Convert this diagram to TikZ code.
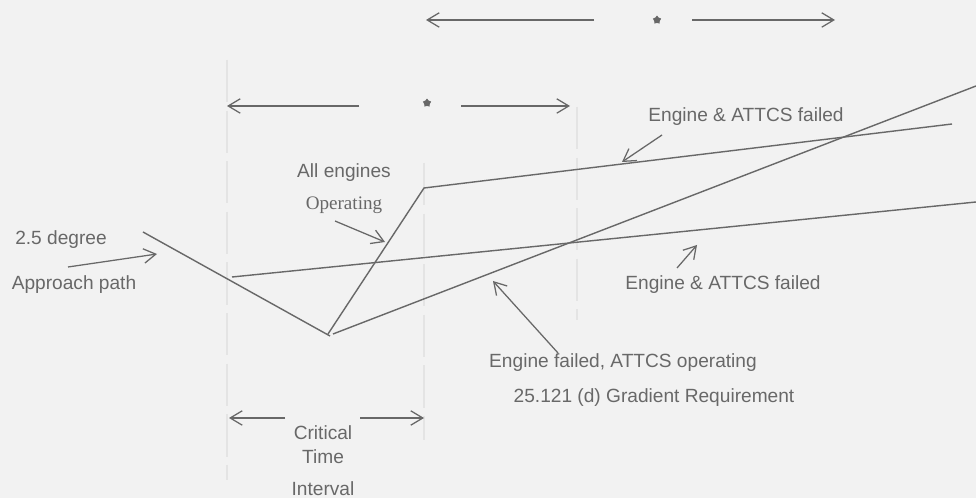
\documentclass[tikz,border=0pt]{standalone}
\usepackage{fontspec}
\setmainfont{Liberation Sans}
\newfontfamily\timesfont{Liberation Serif}
\usepackage{xcolor}
\usepackage{tikz}
\usetikzlibrary{arrows.meta,shapes.geometric}
\definecolor{paper}{RGB}{242,242,242}
\definecolor{ink}{RGB}{104,104,104}
\definecolor{ghost}{RGB}{228,228,228}

\begin{document}
\begin{tikzpicture}[x=0.025cm, y=-0.025cm,
  lbl/.style={font=\fontsize{13.6}{16}\selectfont, text=ink, inner sep=0pt},
  path/.style={line width=1pt, color=ink},
  ptr/.style={-{Straight Barb[length=3mm, width=3.6mm]}, line width=0.9pt, color=ink},
  guide/.style={line width=1.2pt, color=ghost, dash pattern=on 30pt off 6pt},
  dot/.style={star, star points=5, fill=ink, inner sep=0pt, minimum size=0.22cm}
]
  \fill[paper] (0,0) rectangle (976,498);
  \useasboundingbox (0,0) rectangle (976,498);
  % faint guides
  \draw[guide] (227,60) -- (227,480);
  \draw[guide] (424,163) -- (424,440);
  \draw[guide] (577,107) -- (577,320);
  % flight paths
  \coordinate (a0) at (143,232);
  \coordinate (v) at (330,336);
  \coordinate (v1) at (328,334);
  \coordinate (k) at (424,188);
  \coordinate (k1) at (952,124);
  \coordinate (s0) at (333,334);
  \coordinate (s1) at (976,86);
  \coordinate (f0) at (232,277);
  \coordinate (f1) at (976,202);
  \draw[path] (a0) -- (v);
  \draw[path] (v1) -- (k) -- (k1);
  \draw[path] (s0) -- (s1);
  \draw[path] (f0) -- (f1);
  % labels
  \node[lbl] (deg) at (61,240) {2.5 degree};
  \node[lbl] (app) at (74,285) {Approach path};
  \node[lbl] (all) at (344,173) {All engines};
  \node[lbl, font=\fontsize{13.6}{16}\timesfont] (op) at (344,205) {Operating};
  \node[lbl] (fa) at (746,117) {Engine \& ATTCS failed};
  \node[lbl] (fb) at (723,285) {Engine \& ATTCS failed};
  \node[lbl] (eo) at (623,363) {Engine failed, ATTCS operating};
  \node[lbl] (req) at (654,398) {25.121 (d) Gradient Requirement};
  \node[lbl] (crit) at (323,433) {Critical};
  \node[lbl] (time) at (323,457) {Time};
  \node[lbl] (intv) at (323,489) {Interval};
  % pointers
  \coordinate (p0) at (68,267);   \coordinate (p1) at (157,254);
  \coordinate (q0) at (335,221);  \coordinate (q1) at (385,242);
  \coordinate (r0) at (662,135);  \coordinate (r1) at (622,162);
  \coordinate (t0) at (677,268);  \coordinate (t1) at (697,245);
  \coordinate (u0) at (558,353);  \coordinate (u1) at (493,281);
  \draw[ptr] (p0) -- (p1);
  \draw[ptr] (q0) -- (q1);
  \draw[ptr] (r0) -- (r1);
  \draw[ptr] (t0) -- (t1);
  \draw[ptr] (u0) -- (u1);
  % interval arrows
  \node[dot] (st1) at (657,20) {};
  \node[dot] (st2) at (427,103) {};
  \coordinate (h0) at (594,20);  \coordinate (h1) at (426,20);
  \coordinate (h2) at (692,20);  \coordinate (h3) at (835,20);
  \coordinate (m0) at (359,106); \coordinate (m1) at (227,106);
  \coordinate (m2) at (461,106); \coordinate (m3) at (570,106);
  \coordinate (b0) at (285,418); \coordinate (b1) at (229,418);
  \coordinate (b2) at (360,418); \coordinate (b3) at (424,418);
  \draw[ptr] (h0) -- (h1);
  \draw[ptr] (h2) -- (h3);
  \draw[ptr] (m0) -- (m1);
  \draw[ptr] (m2) -- (m3);
  \draw[ptr] (b0) -- (b1);
  \draw[ptr] (b2) -- (b3);
\end{tikzpicture}
\end{document}
